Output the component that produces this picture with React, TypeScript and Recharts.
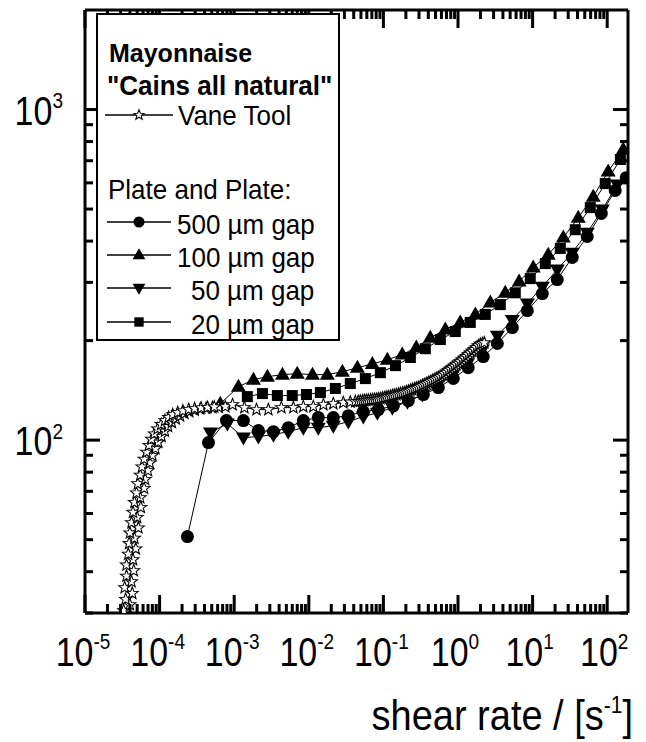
import React from 'react';
import { ComposedChart, Line, XAxis, YAxis } from 'recharts';

const FONT = '"Liberation Sans", Arial, Helvetica, sans-serif';

// Vane tool (open stars)
const vaneRate = [
  3.4e-5, 4.2e-5, 3.3e-5, 4.0e-5, 3.5e-5, 4.3e-5, 3.4e-5, 4.2e-5, 3.6e-5, 4.5e-5,
  3.6e-5, 4.4e-5, 3.8e-5, 4.8e-5, 3.9e-5, 4.6e-5, 4.0e-5, 5.2e-5, 4.2e-5, 5.0e-5,
  4.4e-5, 5.6e-5, 4.6e-5, 5.5e-5, 4.9e-5, 6.2e-5, 5.1e-5, 6.4e-5, 5.5e-5, 7.0e-5,
  5.8e-5, 7.4e-5, 6.2e-5, 8.0e-5, 6.7e-5, 8.8e-5, 7.2e-5, 9.6e-5, 7.8e-5, 1.06e-4,
  8.5e-5, 1.18e-4, 9.4e-5, 1.3e-4, 1.05e-4, 1.46e-4, 1.18e-4, 1.65e-4, 1.32e-4, 1.88e-4,
  1.5e-4, 2.15e-4, 1.75e-4, 2.5e-4, 2.05e-4, 2.95e-4, 2.45e-4, 3.5e-4, 2.95e-4, 4.2e-4,
  3.6e-4, 5.1e-4, 4.4e-4, 6.2e-4, 5.4e-4, 7.6e-4,
  9.5e-4, 1.37e-3, 1.99e-3, 2.87e-3, 4.29e-3, 6.21e-3, 8.45e-3, 0.0115, 0.0157, 0.0213,
  0.029, 0.036, 0.042, 0.046, 0.0491, 0.0525, 0.0556, 0.059, 0.0628, 0.067,
  0.0711, 0.0757, 0.0804, 0.0855, 0.091, 0.097, 0.103, 0.109, 0.116, 0.124,
  0.132, 0.14, 0.149, 0.159, 0.169, 0.18, 0.191, 0.203, 0.216, 0.23,
  0.244, 0.26, 0.276, 0.294, 0.313, 0.333, 0.353, 0.376, 0.4, 0.426,
  0.453, 0.482, 0.512, 0.545, 0.579, 0.616, 0.655, 0.697, 0.741, 0.789,
  0.839, 0.892, 0.949, 1.01, 1.07, 1.14, 1.21, 1.29, 1.37, 1.46,
  1.55, 1.65, 1.76, 1.87, 1.99, 2.12, 2.25,
];
const vaneVisc = [
  27.5, 29.0, 30.5, 31.8, 33.0, 34.4, 35.8, 37.3, 38.8, 40.3,
  41.9, 43.5, 45.2, 46.9, 48.7, 50.5, 52.4, 54.3, 56.3, 58.4,
  60.5, 62.6, 64.8, 67.0, 69.2, 71.5, 73.8, 76.1, 78.4, 80.8,
  83.0, 85.3, 87.6, 89.9, 92.0, 94.2, 96.4, 98.6, 100.6, 102.6,
  104.5, 106.4, 108.2, 110.0, 111.6, 113.2, 114.6, 116.0, 117.2, 118.4,
  119.4, 120.4, 121.2, 122.0, 122.6, 123.3, 123.7, 124.2, 124.5, 124.9,
  125.1, 125.4, 125.6, 125.8, 126.0, 126.2,
  128.0, 125.4, 123.7, 123.7, 125.4, 125.4, 126.3, 126.3, 128.0, 128.9,
  129.8, 130.4, 130.8, 131.0, 131.2, 131.5, 131.7, 131.9, 132.1, 132.4,
  132.6, 132.8, 133.0, 133.3, 133.5, 134.0, 134.4, 134.9, 135.4, 135.8,
  136.3, 136.8, 137.3, 137.8, 138.3, 138.8, 139.2, 140.0, 140.7, 141.5,
  142.2, 143.0, 143.7, 144.5, 145.2, 146.2, 147.2, 148.2, 149.3, 150.3,
  151.4, 152.4, 153.5, 154.6, 155.7, 157.3, 158.9, 160.6, 162.3, 164.0,
  165.7, 167.4, 169.2, 171.0, 172.8, 174.9, 177.0, 179.2, 181.4, 183.6,
  185.9, 188.2, 190.5, 193.0, 195.0, 196.0, 197.0,
];

// Plate and plate, 500 um gap (circles)
const gap500Rate = [
  2.36e-4, 4.52e-4, 7.87e-4, 1.33e-3, 2.11e-3, 3.36e-3, 5.32e-3, 8.45e-3, 0.0134, 0.0213,
  0.0339, 0.0538, 0.0855, 0.136, 0.216, 0.343, 0.545, 0.865, 1.37, 2.18,
  3.37, 5.35, 8.5, 13.5, 21.4, 34, 54, 83.4, 128, 180,
];
const gap500Visc = [
  51.1, 98.3, 114.6, 114.6, 106.9, 106.1, 109.1, 114.6, 117, 117,
  118.6, 122, 123.7, 127, 131.6, 137.3, 144.2, 153.6, 165.6, 179,
  196, 219, 246.5, 277.5, 306, 357, 413, 485, 569, 622,
];

// 100 um gap (triangles up)
const gap100Rate = [
  6.5e-4, 1.14e-3, 1.81e-3, 2.79e-3, 4.43e-3, 7.0e-3, 0.0112, 0.0177, 0.0282, 0.0448,
  0.0711, 0.113, 0.179, 0.276, 0.425, 0.676, 1.07, 1.71, 2.71, 4.3,
  6.6, 10.2, 16.2, 25.8, 40.9, 65, 103, 164,
];
const gap100Visc = [
  128.9, 145, 152.4, 155.6, 157.8, 158.9, 157.8, 157.8, 161, 165.6,
  170, 175, 181.5, 190.6, 204, 216, 227, 240, 261, 279,
  302, 333, 364, 410, 471, 545, 649, 757,
];

// 50 um gap (triangles down)
const gap50Rate = [
  4.8e-4, 8.1e-4, 1.33e-3, 2.11e-3, 3.36e-3, 5.3e-3, 8.45e-3, 0.0134, 0.0213, 0.0339,
  0.0538, 0.083, 0.132, 0.21, 0.333, 0.528, 0.84, 1.33, 2.12, 3.37,
  5.35, 8.5, 13.5, 21.4, 34, 54, 86, 136.5,
];
const gap50Visc = [
  105.4, 112.2, 101.8, 102.5, 103.9, 106.1, 109.1, 109.1, 110.6, 113.8,
  117.8, 121, 125.4, 130.7, 137.3, 146.3, 156.8, 170.3, 188, 207,
  231, 259, 291, 328, 369, 424, 498, 593,
];

// 20 um gap (squares)
const gap20Rate = [
  1.5e-3, 2.39e-3, 3.79e-3, 6.0e-3, 9.3e-3, 0.0143, 0.0227, 0.036, 0.0573, 0.091,
  0.145, 0.23, 0.365, 0.58, 0.92, 1.46, 2.32, 3.69, 5.86, 9.3,
  14.8, 23.5, 37.3, 59.3, 94.2, 150,
];
const gap20Visc = [
  135.4, 138.3, 136.4, 136.4, 137.4, 139.3, 143.3, 148.3, 153.5, 160,
  168, 177.8, 189, 201.5, 213, 227, 240, 257, 279, 308,
  342, 380, 433, 505, 597, 706,
];

const xDomain = [1e-5, 190];
const yDomain = [30, 2000];
const xTicks: number[] = [];
for (let e = -5; e <= 2; e++) for (let k = 1; k <= 9; k++) {
  const v = k * Math.pow(10, e);
  if (v <= xDomain[1]) xTicks.push(v);
}
const yTicks: number[] = [];
for (let e = 1; e <= 3; e++) for (let k = 1; k <= 9; k++) {
  const v = k * Math.pow(10, e);
  if (v >= yDomain[0] && v < yDomain[1]) yTicks.push(v);
}

const zip = (xs: number[], ys: number[]) => xs.map((x, i) => ({ x, y: ys[i] }));
const vaneData = zip(vaneRate, vaneVisc);
const gap500Data = zip(gap500Rate, gap500Visc);
const gap100Data = zip(gap100Rate, gap100Visc);
const gap50Data = zip(gap50Rate, gap50Visc);
const gap20Data = zip(gap20Rate, gap20Visc);

const expOf = (v: number) => Math.round(Math.log10(v));
const isMajor = (v: number) => Math.abs(Math.log10(v) - expOf(v)) < 1e-6;

const starPath = (cx: number, cy: number, R: number) => {
  const r = R * 0.42;
  let d = '';
  for (let i = 0; i < 10; i++) {
    const rad = i % 2 === 0 ? R : r;
    const a = -Math.PI / 2 + (i * Math.PI) / 5;
    d += `${i === 0 ? 'M' : 'L'}${(cx + rad * Math.cos(a)).toFixed(2)},${(cy + rad * Math.sin(a)).toFixed(2)}`;
  }
  return d + 'Z';
};

type Kind = 'star' | 'circle' | 'up' | 'down' | 'square';

const Marker = ({ kind, cx, cy, s = 1 }: { kind: Kind; cx: number; cy: number; s?: number }) => {
  if (kind === 'star')
    return <path d={starPath(cx, cy, 6.3 * s)} fill="#fff" stroke="#000" strokeWidth={1.05} />;
  if (kind === 'circle') return <circle cx={cx} cy={cy} r={6.5 * s} fill="#000" />;
  if (kind === 'up')
    return <path d={`M${cx},${cy - 8 * s}L${cx + 7.5 * s},${cy + 5 * s}L${cx - 7.5 * s},${cy + 5 * s}Z`} fill="#000" />;
  if (kind === 'down')
    return <path d={`M${cx},${cy + 8 * s}L${cx + 7.5 * s},${cy - 5 * s}L${cx - 7.5 * s},${cy - 5 * s}Z`} fill="#000" />;
  return <rect x={cx - 5.5 * s} y={cy - 5.5 * s} width={11 * s} height={11 * s} fill="#000" />;
};

const dotFor = (kind: Kind) => (p: any) => {
  const { cx, cy, index } = p;
  if (cx == null || cy == null || isNaN(cx) || isNaN(cy)) return <g key={`${kind}-${index}`} />;
  return (
    <g key={`${kind}-${index}`}>
      <Marker kind={kind} cx={cx} cy={cy} />
    </g>
  );
};

const STRETCH = 1.18;

const PowLabel = ({ x, y, exp, anchor }: { x: number; y: number; exp: number; anchor: 'middle' | 'end' }) => (
  <text
    transform={`translate(${x},${y}) scale(1,${STRETCH})`}
    textAnchor={anchor}
    fontFamily={FONT}
    fontSize={34}
    fill="#000"
  >
    10
    <tspan dy={-14} fontSize={19}>{exp}</tspan>
  </text>
);

const XTick = (props: any) => {
  const { x, y, payload, side } = props;
  const v = payload.value;
  const major = isMajor(v);
  const len = major ? 18 : 9;
  const e = expOf(v);
  const top = side === 'bottom' ? y - len : y;
  return (
    <g>
      <rect x={x - 1.5} y={top} width={3} height={len} fill="#000" />
      {major && side === 'bottom' && (
        <PowLabel x={x + (e >= 0 ? -3 : -2)} y={y + 53} exp={e} anchor="middle" />
      )}
    </g>
  );
};

const YTick = (props: any) => {
  const { x, y, payload, side } = props;
  const v = payload.value;
  const major = isMajor(v);
  const len = major ? 15 : 8;
  const left = side === 'left' ? x : x - len;
  return (
    <g>
      <rect x={left} y={y - 1.5} width={len} height={3} fill="#000" />
      {major && side === 'left' && <PowLabel x={63} y={y + 15} exp={expOf(v)} anchor="end" />}
    </g>
  );
};

const axisLine = { stroke: '#000', strokeWidth: 3 };

const LegendBox = () => {
  const rows: { kind: Kind; label: string; y: number; tx: number }[] = [
    { kind: 'circle', label: '500 \u00b5m gap', y: 222, tx: 177 },
    { kind: 'up', label: '100 \u00b5m gap', y: 255, tx: 177 },
    { kind: 'down', label: '50 \u00b5m gap', y: 288, tx: 191 },
    { kind: 'square', label: '20 \u00b5m gap', y: 322, tx: 191 },
  ];
  const t = (x: number, y: number) => `translate(${x},${y}) scale(1,1.05)`;
  return (
    <svg
      width={646}
      height={742}
      style={{ position: 'absolute', left: 0, top: 0, pointerEvents: 'none' }}
    >
      <rect x={97} y={14} width={242} height={326} fill="#fff" stroke="#000" strokeWidth={2} />
      <g fontFamily={FONT} fontSize={26} fill="#000">
        <text transform={t(109, 62)} fontWeight="bold" fontSize={25}>Mayonnaise</text>
        <text transform={t(107, 95)} fontWeight="bold">"Cains all natural"</text>
        <line x1={105} x2={173} y1={115} y2={115} stroke="#000" strokeWidth={1.5} />
        <Marker kind="star" cx={139} cy={115} s={0.85} />
        <text transform={t(178, 125)}>Vane Tool</text>
        <text transform={t(108, 199)}>Plate and Plate:</text>
        {rows.map((r) => (
          <g key={r.label}>
            <line x1={107} x2={171} y1={r.y} y2={r.y} stroke="#000" strokeWidth={1.5} />
            <Marker kind={r.kind} cx={139} cy={r.y} s={0.85} />
            <text transform={t(r.tx, r.y + 12)}>{r.label}</text>
          </g>
        ))}
      </g>
    </svg>
  );
};

const App: React.FC = () => {
  return (
    <div style={{ position: 'absolute', left: 0, top: 0, width: 646, height: 742, background: '#fff' }}>
      <ComposedChart width={646} height={742} margin={{ top: 0, right: 0, bottom: 0, left: 0 }}>
        <XAxis
          xAxisId="b"
          dataKey="x"
          type="number"
          scale="log"
          domain={xDomain}
          allowDataOverflow
          orientation="bottom"
          height={129}
          ticks={xTicks}
          interval={0}
          tickSize={0}
          tickMargin={0}
          tickLine={false}
          axisLine={axisLine}
          tick={<XTick side="bottom" />}
        />
        <XAxis
          xAxisId="t"
          dataKey="x"
          type="number"
          scale="log"
          domain={xDomain}
          allowDataOverflow
          orientation="top"
          height={10}
          ticks={xTicks}
          interval={0}
          tickSize={0}
          tickMargin={0}
          tickLine={false}
          axisLine={axisLine}
          tick={<XTick side="top" />}
        />
        <YAxis
          yAxisId="l"
          type="number"
          scale="log"
          domain={yDomain}
          allowDataOverflow
          orientation="left"
          width={85}
          ticks={yTicks}
          interval={0}
          tickSize={0}
          tickMargin={0}
          tickLine={false}
          axisLine={axisLine}
          tick={<YTick side="left" />}
        />
        <YAxis
          yAxisId="r"
          type="number"
          scale="log"
          domain={yDomain}
          allowDataOverflow
          orientation="right"
          width={18}
          ticks={yTicks}
          interval={0}
          tickSize={0}
          tickMargin={0}
          tickLine={false}
          axisLine={axisLine}
          tick={<YTick side="right" />}
        />
        <Line xAxisId="b" yAxisId="l" data={gap500Data} dataKey="y" stroke="#000" strokeWidth={1} dot={dotFor('circle')} activeDot={false} isAnimationActive={false} />
        <Line xAxisId="b" yAxisId="l" data={gap50Data} dataKey="y" stroke="#000" strokeWidth={1} dot={dotFor('down')} activeDot={false} isAnimationActive={false} />
        <Line xAxisId="b" yAxisId="l" data={gap100Data} dataKey="y" stroke="#000" strokeWidth={1} dot={dotFor('up')} activeDot={false} isAnimationActive={false} />
        <Line xAxisId="b" yAxisId="l" data={gap20Data} dataKey="y" stroke="#000" strokeWidth={1} dot={dotFor('square')} activeDot={false} isAnimationActive={false} />
        <Line xAxisId="b" yAxisId="l" data={vaneData} dataKey="y" stroke="#000" strokeWidth={1} dot={dotFor('star')} activeDot={false} isAnimationActive={false} />
      </ComposedChart>
      <LegendBox />
      <svg width={646} height={742} style={{ position: 'absolute', left: 0, top: 0, pointerEvents: 'none' }}>
        <text
          transform={`translate(633,730) scale(1,1.12)`}
          textAnchor="end"
          fontFamily={FONT}
          fontSize={38}
          fill="#000"
        >
          shear rate / [s
          <tspan dy={-15} fontSize={21}>-1</tspan>
          <tspan dy={15}>]</tspan>
        </text>
      </svg>
    </div>
  );
};

export default App;
